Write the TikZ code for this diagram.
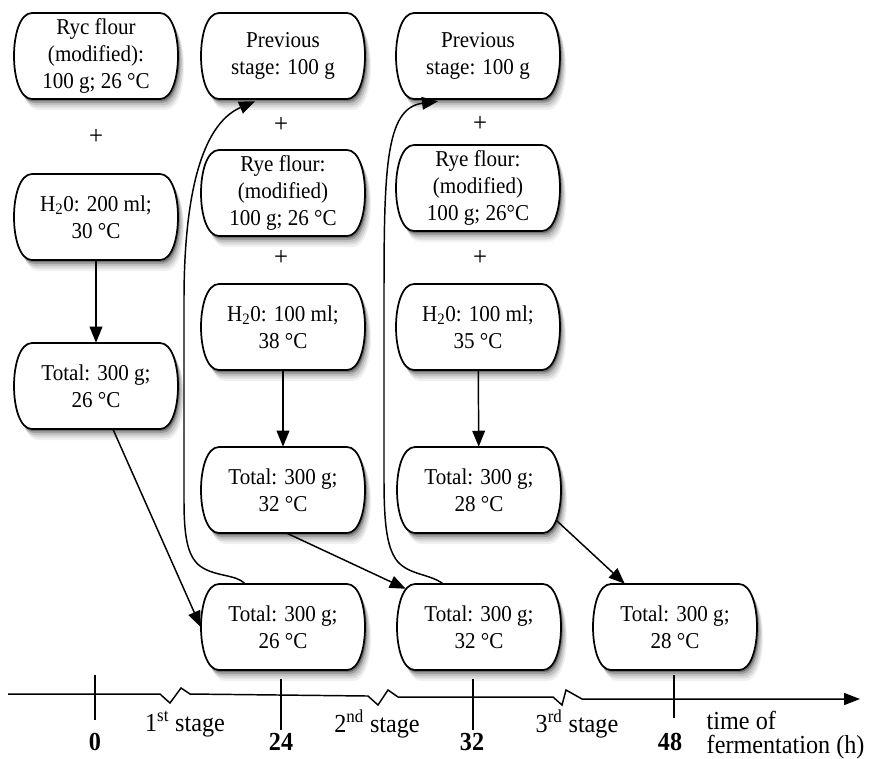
\documentclass[tikz,border=0pt]{standalone}
\usepackage{fontspec}
\setmainfont{Liberation Serif}[FakeStretch=0.93]
\usetikzlibrary{arrows.meta,calc}
\definecolor{shA}{gray}{0.94}
\definecolor{shB}{gray}{0.86}
\definecolor{shC}{gray}{0.76}
\definecolor{shD}{gray}{0.62}
\definecolor{shE}{gray}{0.45}
% outline of a box centred at (#1,#2), shifted by (#3,#4) px
\newcommand\rshape[4]{({#1-64+#3},{#2-43+#4}) -- ({#1+64+#3},{#2-43+#4})
  .. controls ({#1+88+#3},{#2-43+#4}) and ({#1+88+#3},{#2+43+#4}) .. ({#1+64+#3},{#2+43+#4})
  -- ({#1-64+#3},{#2+43+#4})
  .. controls ({#1-88+#3},{#2+43+#4}) and ({#1-88+#3},{#2-43+#4}) .. ({#1-64+#3},{#2-43+#4}) -- cycle}
\newcommand\rboxat[2]{%
  \path[fill=shA] \rshape{#1}{#2}{6}{11};
  \path[fill=shB] \rshape{#1}{#2}{5}{8.5};
  \path[fill=shC] \rshape{#1}{#2}{3.8}{6.3};
  \path[fill=shD] \rshape{#1}{#2}{2.5}{4};
  \path[fill=shE] \rshape{#1}{#2}{1.5}{2.2};
  \path[boxline] \rshape{#1}{#2}{0}{0};}
\begin{document}
\begin{tikzpicture}[x=0.75pt,y=-0.75pt,
  every node/.style={font=\fontsize{17}{20}\selectfont},
  txt/.style={align=center, minimum width=123pt, minimum height=64.5pt, inner sep=0pt},
  boxline/.style={draw=black, line width=1.3pt, fill=white},
  arr/.style={line width=1.1pt, -{Triangle[length=12pt,width=9.5pt]}},
  tl/.style={font=\fontsize{19.5}{18}\selectfont},
  plus/.style={font=\fontsize{20}{20}\selectfont},
  tick/.style={line width=0.9pt}]
\useasboundingbox (0,0) rectangle (873,758);

% box outlines with shadows
\foreach \cx/\cy in {96/56,96/217,96/386,283/56,283/193,283/327,283/490,283/627,
  478/56,478/188,478/327,479/490,479/627,675/627} {\rboxat{\cx}{\cy}}

% column 1
\node[txt] (r1) at (96,56) {Ryc flour\\(modified):\\100 g; 26 °C};
\node[plus] (pl1) at (96,137) {+};
\node[txt] (w1) at (96,217) {H\textsubscript{2}0: 200 ml;\\30 °C};
\node[txt] (t1) at (96,386) {Total: 300 g;\\26 °C};

% column 2
\node[txt] (p2) at (283,56) {Previous\\stage: 100 g};
\node[plus] (pl2a) at (281,125) {+};
\node[txt] (r2) at (283,193) {Rye flour:\\(modified)\\100 g; 26 °C};
\node[plus] (pl2b) at (281,258) {+};
\node[txt] (w2) at (283,327) {H\textsubscript{2}0: 100 ml;\\38 °C};
\node[txt] (t2) at (283,490) {Total: 300 g;\\32 °C};
\node[txt] (b2) at (283,627) {Total: 300 g;\\26 °C};

% column 3
\node[txt] (p3) at (478,56) {Previous\\stage: 100 g};
\node[plus] (pl3a) at (480,124) {+};
\node[txt] (r3) at (478,188) {Rye flour:\\(modified)\\100 g; 26°C};
\node[plus] (pl3b) at (480,258) {+};
\node[txt] (w3) at (478,327) {H\textsubscript{2}0: 100 ml;\\35 °C};
\node[txt] (t3) at (479,490) {Total: 300 g;\\28 °C};
\node[txt] (b3) at (479,627) {Total: 300 g;\\32 °C};

% column 4
\node[txt] (b4) at (675,627) {Total: 300 g;\\28 °C};

% connectors
\draw[arr] (w1) -- (t1);
\draw[arr] (w2) -- (t2);
\draw[arr] (w3) -- (t3);
\draw[arr] ($(t1.south)+(17,0)$) -- (b2.west);
\draw[arr] ($(t2.south)+(4,0)$) -- ($(b3.north west)+(9,5)$);
\draw[arr] ($(t3.south east)+(-5,-13)$) -- ($(b4.north west)+(32,0)$);
\draw[arr] ($(b2.north)+(-38,0)$) .. controls (236,574) and (215,577) .. (200,566)
  .. controls (187,556) and (184,535) .. (184,500) -- (184,300)
  .. controls (184,200) and (200,125) .. ($(p2.south)+(-28,2)$);
\draw[arr] ($(b3.north)+(-36,0)$) .. controls (430,574) and (410,575) .. (398,562)
  .. controls (388,550) and (384,530) .. (384,480) -- (384,300)
  .. controls (384,170) and (385,108) .. ($(p3.south)+(-40,2)$);

% time axis
\coordinate (axs) at (8,694);
\coordinate (axe) at (860,699);
\draw[line width=1.1pt, -{Triangle[length=12pt,width=9pt]}] (axs) -- (160,694) -- (170,703) -- (181,688) -- (190,694)
  -- (368,696) -- (378,705) -- (388,690) -- (398,697)
  -- (553,697) -- (562,705) -- (566,690) -- (582,699) -- (axe);
\draw[tick] (95,675) -- (95,720);
\draw[tick] (281,679) -- (281,730);
\draw[tick] (473,679) -- (473,730);
\draw[tick] (674,675) -- (674,718);
\node[tl] (l0) at (95,742) {\textbf{0}};
\node[tl] (l24) at (281,742) {\textbf{24}};
\node[tl] (l32) at (472,742) {\textbf{32}};
\node[tl] (l48) at (670,742) {\textbf{48}};
\node[tl] (s1) at (185,724) {1\textsuperscript{st} stage};
\node[tl] (s2) at (377,724) {2\textsuperscript{nd} stage};
\node[tl] (s3) at (577,724) {3\textsuperscript{rd} stage};
\node[tl, anchor=west, align=left] (tf) at (702,735) {time of\\fermentation (h)};
\end{tikzpicture}
\end{document}
